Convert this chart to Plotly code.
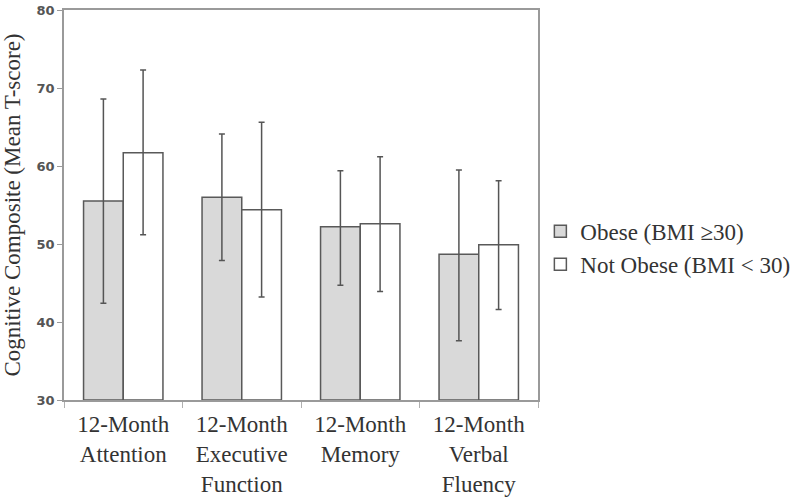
import plotly.graph_objects as go

categories = ["12-Month<br>Attention", "12-Month<br>Executive<br>Function", "12-Month<br>Memory", "12-Month<br>Verbal<br>Fluency"]
obese_mean = [55.5, 56.0, 52.2, 48.7]
obese_hi = [68.6, 64.1, 59.4, 59.5]
obese_lo = [42.4, 47.9, 44.7, 37.6]
notobese_mean = [61.7, 54.4, 52.6, 49.9]
notobese_hi = [72.3, 65.6, 61.2, 58.1]
notobese_lo = [51.2, 43.2, 43.9, 41.6]
y_ticks = [30, 40, 50, 60, 70, 80]

def err(mean, hi, lo):
    return dict(type="data", symmetric=False,
                array=[h - m for h, m in zip(hi, mean)],
                arrayminus=[m - l for m, l in zip(mean, lo)],
                color="#555555", thickness=1.5, width=3)

fig = go.Figure()
fig.add_trace(go.Bar(x=categories, y=[m - 30 for m in obese_mean], base=30,
                     name="Obese (BMI ≥30)",
                     marker=dict(color="#d9d9d9", line=dict(color="#595959", width=1.5)),
                     error_y=err(obese_mean, obese_hi, obese_lo)))
fig.add_trace(go.Bar(x=categories, y=[m - 30 for m in notobese_mean], base=30,
                     name="Not Obese (BMI < 30)",
                     marker=dict(color="#ffffff", line=dict(color="#595959", width=1.5)),
                     error_y=err(notobese_mean, notobese_hi, notobese_lo)))

fig.update_layout(
    width=800, height=502,
    margin=dict(l=64, r=262, t=10, b=102, autoexpand=False),
    paper_bgcolor="white", plot_bgcolor="white",
    barmode="group", bargap=0.33, bargroupgap=0,
    font=dict(family="Liberation Serif", size=23, color="#333333"),
    legend=dict(x=1.005, y=0.39, xanchor="left", yanchor="middle",
                font=dict(family="Liberation Serif", size=23, color="#333333"),
                tracegroupgap=0, itemwidth=30),
    showlegend=True,
)
fig.update_xaxes(showline=True, linecolor="#9a9a9a", linewidth=1.5, mirror=True,
                 ticks="outside", tickson="boundaries", ticklen=6, tickcolor="#b0b0b0",
                 tickfont=dict(family="Liberation Serif", size=23, color="#333333"),
                 ticklabelstandoff=3,
                 showgrid=False, automargin=False)
fig.update_yaxes(range=[30, 80], tickvals=y_ticks, showline=True, linecolor="#9a9a9a",
                 linewidth=1.5, mirror=True, ticks="outside", ticklen=5, tickcolor="#9a9a9a",
                 tickfont=dict(family="DejaVu Sans", size=13, color="#555555", weight="bold"),
                 showgrid=False, zeroline=False, automargin=False,
                 title=dict(text="Cognitive Composite (Mean T-score)", standoff=10,
                            font=dict(family="Liberation Serif", size=23, color="#333333")))

fig.write_html("out.html", config={"displayModeBar": False},
               post_script="document.body.style.margin='0';")
